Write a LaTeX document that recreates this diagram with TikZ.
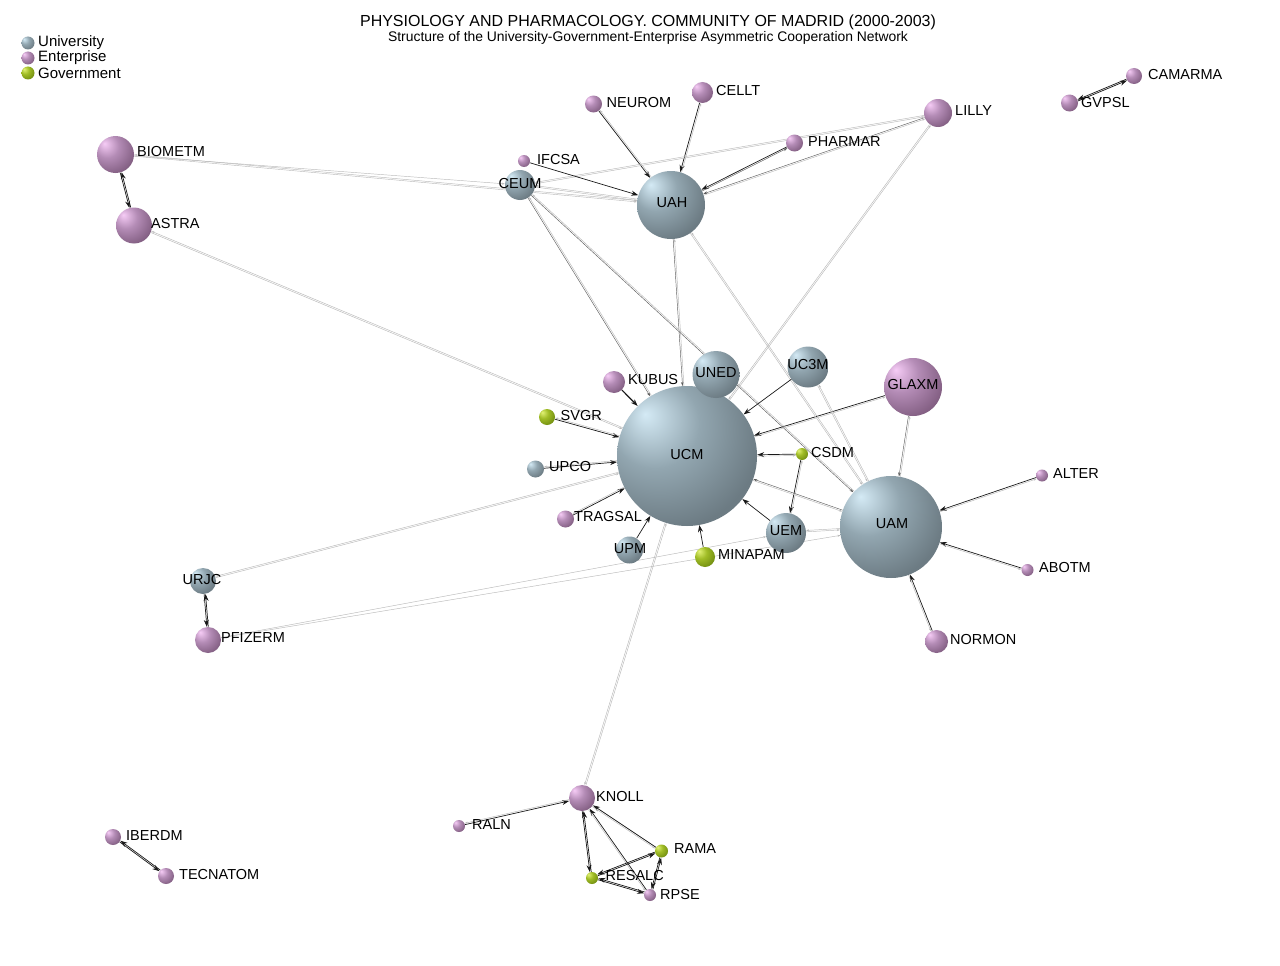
\documentclass[tikz,border=0pt]{standalone}
\usepackage{fontspec}
\setmainfont{Liberation Sans}
\usetikzlibrary{arrows.meta,backgrounds}
\definecolor{unihi}{RGB}{212,234,245}
\definecolor{unimid}{RGB}{146,166,176}
\definecolor{unilo}{RGB}{108,123,131}
\definecolor{unirim}{RGB}{96,110,118}
\definecolor{enthi}{RGB}{246,204,246}
\definecolor{entmid}{RGB}{180,140,182}
\definecolor{entlo}{RGB}{132,96,132}
\definecolor{entrim}{RGB}{112,80,112}
\definecolor{govhi}{RGB}{226,242,118}
\definecolor{govmid}{RGB}{160,188,38}
\definecolor{govlo}{RGB}{116,144,18}
\definecolor{govrim}{RGB}{98,122,12}
\definecolor{weakline}{RGB}{186,186,186}
\definecolor{midline}{RGB}{95,95,95}

\pgfdeclareradialshading{uniball}{\pgfpoint{-15bp}{15bp}}{color(0bp)=(unihi); color(16bp)=(unimid); color(34bp)=(unilo); color(70bp)=(unirim)}
\pgfdeclareradialshading{entball}{\pgfpoint{-15bp}{15bp}}{color(0bp)=(enthi); color(16bp)=(entmid); color(34bp)=(entlo); color(70bp)=(entrim)}
\pgfdeclareradialshading{govball}{\pgfpoint{-15bp}{15bp}}{color(0bp)=(govhi); color(16bp)=(govmid); color(34bp)=(govlo); color(70bp)=(govrim)}

% two parallel links: #1 -> #2 in style #3, #2 -> #1 in style #4
\newcommand\pairlink[4]{%
  \draw[#3] (#1) -- (#2);
  \pgfmathanglebetweenpoints{\pgfpointanchor{#1}{center}}{\pgfpointanchor{#2}{center}}%
  \edef\pairang{\pgfmathresult}%
  \draw[#4,transform canvas={shift={(\pairang+90:1.4pt)}}] (#2) -- (#1);
}

\begin{document}
\begin{tikzpicture}[x=1pt,y=-1pt,
   uni/.style={circle,inner sep=0pt,shade,shading=uniball},
   ent/.style={circle,inner sep=0pt,shade,shading=entball},
   gov/.style={circle,inner sep=0pt,shade,shading=govball},
   lbl/.style={font=\fontsize{14.5}{16}\selectfont,inner sep=0pt,anchor=west},
   mid/.style={font=\fontsize{14.5}{16}\selectfont,inner sep=0pt},
   lk/.style={draw=black!90,line width=0.7pt,-{Stealth[length=7pt,width=5pt]}},
   lm/.style={draw=midline,line width=0.45pt,-{Stealth[length=4pt,width=2.8pt]}},
   lw/.style={draw=weakline,line width=0.45pt,-{Stealth[length=3pt,width=2pt]}}]
  \useasboundingbox (0,0) rectangle (1280,966);
  % title and legend
  \node[font=\fontsize{16}{18}\selectfont] (title) at (648,22)
    {PHYSIOLOGY AND PHARMACOLOGY. COMMUNITY OF MADRID (2000-2003)};
  \node[font=\fontsize{13.9}{15}\selectfont] (subtitle) at (648,38)
    {Structure of the University-Government-Enterprise Asymmetric Cooperation Network};
  \node[uni,minimum size=13pt] (keyU) at (28,43) {};
  \node[ent,minimum size=13pt] (keyE) at (28,58) {};
  \node[gov,minimum size=13pt] (keyG) at (28,73) {};
  \node[lbl,font=\fontsize{15}{16}\selectfont] (tkeyU) at (38,43) {University};
  \node[lbl,font=\fontsize{15}{16}\selectfont] (tkeyE) at (38,58) {Enterprise};
  \node[lbl,font=\fontsize{15}{16}\selectfont] (tkeyG) at (38,73) {Government};

  % universities
  \node[uni,minimum size=140pt] (UCM) at (687,456) {};
  \node[uni,minimum size=102pt] (UAM) at (891,527) {};
  \node[uni,minimum size=68pt] (UAH) at (671,205) {};
  \node[uni,minimum size=47pt] (UNED) at (716,374.5) {};
  \node[uni,minimum size=41pt] (UC3M) at (808,367) {};
  \node[uni,minimum size=40pt] (UEM) at (786,533) {};
  \node[uni,minimum size=30pt] (CEUM) at (520,185) {};
  \node[uni,minimum size=27pt] (UPM) at (629.5,550) {};
  \node[uni,minimum size=26pt] (URJC) at (203,581) {};
  \node[uni,minimum size=17pt] (UPCO) at (535.5,469) {};
  % enterprises
  \node[ent,minimum size=58pt] (GLAXM) at (913,387) {};
  \node[ent,minimum size=37pt] (BIOMETM) at (115.5,154.5) {};
  \node[ent,minimum size=36pt] (ASTRA) at (134,225.5) {};
  \node[ent,minimum size=28pt] (LILLY) at (938,113) {};
  \node[ent,minimum size=26pt] (PFIZERM) at (208,640) {};
  \node[ent,minimum size=26pt] (KNOLL) at (582,798) {};
  \node[ent,minimum size=23pt] (NORMON) at (936.5,641.5) {};
  \node[ent,minimum size=22pt] (KUBUS) at (614,382) {};
  \node[ent,minimum size=21pt] (CELLT) at (702.5,92.5) {};
  \node[ent,minimum size=17pt] (NEUROM) at (593.5,104) {};
  \node[ent,minimum size=17pt] (PHARMAR) at (794.5,143) {};
  \node[ent,minimum size=17pt] (TRAGSAL) at (565.5,519) {};
  \node[ent,minimum size=16pt] (CAMARMA) at (1134,76) {};
  \node[ent,minimum size=17pt] (GVPSL) at (1069.5,103) {};
  \node[ent,minimum size=16pt] (IBERDM) at (113,837) {};
  \node[ent,minimum size=16pt] (TECNATOM) at (166,876) {};
  \node[ent,minimum size=12pt] (IFCSA) at (524,161) {};
  \node[ent,minimum size=12pt] (ALTER) at (1042,475.5) {};
  \node[ent,minimum size=12pt] (ABOTM) at (1027.5,570) {};
  \node[ent,minimum size=12pt] (RALN) at (459,826) {};
  \node[ent,minimum size=12pt] (RPSE) at (650,895) {};
  % government
  \node[gov,minimum size=20pt] (MINAPAM) at (705,557) {};
  \node[gov,minimum size=16pt] (SVGR) at (547,417) {};
  \node[gov,minimum size=12pt] (CSDM) at (802,454) {};
  \node[gov,minimum size=13pt] (RAMA) at (661.5,851) {};
  \node[gov,minimum size=12pt] (RESALC) at (592,878) {};

  % labels
  \node[mid] (tUCM) at (687,455) {UCM};
  \node[mid] (tUAM) at (892,524) {UAM};
  \node[mid] (tUAH) at (672,203) {UAH};
  \node[mid] (tUNED) at (716,373) {UNED};
  \node[mid] (tUC3M) at (808,365) {UC3M};
  \node[mid] (tUEM) at (786,531) {UEM};
  \node[mid] (tCEUM) at (520,184) {CEUM};
  \node[mid] (tUPM) at (630,549) {UPM};
  \node[mid] (tURJC) at (202,580) {URJC};
  \node[mid] (tGLAXM) at (913,385) {GLAXM};
  \node[lbl] (tUPCO) at (549,467) {UPCO};
  \node[lbl] (tBIOMETM) at (137,152) {BIOMETM};
  \node[lbl] (tASTRA) at (151,224) {ASTRA};
  \node[lbl] (tLILLY) at (955,111) {LILLY};
  \node[lbl] (tPFIZERM) at (221,638) {PFIZERM};
  \node[lbl] (tKNOLL) at (596,797) {KNOLL};
  \node[lbl] (tNORMON) at (950,640) {NORMON};
  \node[lbl] (tKUBUS) at (628,380) {KUBUS};
  \node[lbl] (tCELLT) at (716,91) {CELLT};
  \node[lbl] (tNEUROM) at (606.5,103) {NEUROM};
  \node[lbl] (tPHARMAR) at (808,142) {PHARMAR};
  \node[lbl] (tTRAGSAL) at (574,517) {TRAGSAL};
  \node[lbl] (tCAMARMA) at (1148,75) {CAMARMA};
  \node[lbl] (tGVPSL) at (1081,103) {GVPSL};
  \node[lbl] (tIBERDM) at (126,836) {IBERDM};
  \node[lbl] (tTECNATOM) at (179,874) {TECNATOM};
  \node[lbl] (tIFCSA) at (537,160) {IFCSA};
  \node[lbl] (tALTER) at (1053,474) {ALTER};
  \node[lbl] (tABOTM) at (1039,568) {ABOTM};
  \node[lbl] (tRALN) at (472,825) {RALN};
  \node[lbl] (tRPSE) at (660,894) {RPSE};
  \node[lbl] (tMINAPAM) at (718,555) {MINAPAM};
  \node[lbl] (tSVGR) at (560.5,416) {SVGR};
  \node[lbl] (tCSDM) at (811,453) {CSDM};
  \node[lbl] (tRAMA) at (674,849) {RAMA};
  \node[lbl] (tRESALC) at (605.5,876) {RESALC};

  \begin{scope}[on background layer]
    \fill[white] (0,0) rectangle (1280,966);
    % strong link with a weak return
    \foreach \a/\b in {NEUROM/UAH,CELLT/UAH,GLAXM/UCM,CSDM/UCM,CSDM/UEM,
        TRAGSAL/UCM,UPCO/UCM,SVGR/UCM,ALTER/UAM,ABOTM/UAM,NORMON/UAM,
        RALN/KNOLL,RAMA/KNOLL,RPSE/KNOLL}
      {\pairlink{\a}{\b}{lk}{lw}}
    \pairlink{PHARMAR}{UAH}{lk}{lm}
    % medium links
    \foreach \a/\b in {LILLY/UAH,UAH/UCM,CEUM/UCM,CEUM/UAM,GLAXM/UAM,UAM/UCM}
      {\pairlink{\a}{\b}{lm}{lw}}
    % weak both ways
    \foreach \a/\b in {LILLY/CEUM,LILLY/UCM,BIOMETM/UAH,CEUM/UAH,UAH/UAM,
        UC3M/UAM,UEM/UAM,ASTRA/UCM,URJC/UCM,KNOLL/UCM}
      {\pairlink{\a}{\b}{lw}{lw}}
    % strong both ways
    \foreach \a/\b in {BIOMETM/ASTRA,URJC/PFIZERM,IBERDM/TECNATOM,CAMARMA/GVPSL,
        RESALC/KNOLL,RESALC/RAMA,RESALC/RPSE,RAMA/RPSE}
      {\pairlink{\a}{\b}{lk}{lk}}
    % one way only
    \foreach \a/\b in {IFCSA/UAH,UC3M/UCM,UEM/UCM,MINAPAM/UCM,UPM/UCM}
      {\draw[lk] (\a) -- (\b);}
    \draw[lk,line width=1.2pt] (KUBUS) -- (UCM);
    \foreach \a/\b in {BIOMETM/CEUM,PFIZERM/UEM,PFIZERM/UAM}
      {\draw[lw] (\a) -- (\b);}
  \end{scope}
\end{tikzpicture}
\end{document}
